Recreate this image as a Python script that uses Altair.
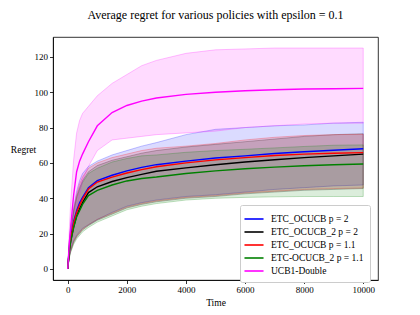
import altair as alt
import pandas as pd

T = [0, 50, 100, 200, 300, 400, 500, 700, 1000, 1500, 2000, 2500, 3000, 4000, 5000, 6000, 7000, 8000, 9000, 10000]

series_names = ["ETC_OCUCB p = 2", "ETC_OCUCB_2 p = 2", "ETC_OCUCB p = 1.1", "ETC-OCUCB_2 p = 1.1", "UCB1-Double"]
series_colors = ["#0000ff", "#000000", "#ff0000", "#008000", "#ff00ff"]

blue_mean = [0, 12, 18, 27, 33, 37.5, 40.5, 46, 50, 53, 55.5, 57.5, 59, 61, 62.8, 64, 65.3, 66.3, 67.2, 68]
blue_low = [0, 7, 11, 16, 19, 21, 23, 25, 28, 32, 35.5, 37.5, 39, 41, 42, 43.5, 45, 46, 47, 47.5]
blue_up = [0, 16, 24, 35, 44, 50, 54, 58, 61, 64.5, 67, 69.5, 71.5, 76, 79, 80, 81, 81.5, 82.5, 83]

black_mean = [0, 10, 16, 24, 30, 34, 37.5, 43.2, 46.5, 49.5, 51.7, 53.5, 55.3, 57.2, 59, 60.5, 61.8, 63, 64, 65]
black_low = [0, 6.5, 10, 15, 18, 20, 22, 24.5, 27.5, 31, 34.5, 36.5, 38, 40, 41, 42.5, 43.5, 44.5, 45, 45.5]
black_up = [0, 14, 22, 33, 41, 46, 50, 55, 58.5, 61.5, 63.5, 65.5, 67, 69, 70.5, 72, 73.5, 75, 76, 76.5]

red_mean = [0, 11, 17, 26, 32, 36, 39.5, 45.2, 49.2, 52, 54.3, 56.2, 57.8, 60, 61.7, 63, 64.2, 65, 65.5, 65.8]
red_low = [0, 7, 10.5, 15.5, 18.5, 20.5, 22.5, 25, 28, 31.5, 35, 37, 38.5, 40.5, 41.5, 43, 44, 45, 45.5, 45.8]
red_up = [0, 15, 23, 34, 42, 48, 52, 57, 60, 63, 65, 67, 68.3, 69.5, 71, 73, 74.5, 75.5, 76, 76.2]

green_mean = [0, 10, 15.5, 23.5, 29.5, 33, 36.5, 41.5, 44.5, 47.5, 49.8, 51.2, 52, 54, 55.5, 56.7, 57.6, 58.4, 59, 59.4]
green_low = [0, 6, 9.5, 14, 17, 19, 21, 23.5, 26.5, 30, 33.5, 35.5, 37, 39, 40, 40.5, 40.8, 41, 41, 41]
green_up = [0, 14, 21, 32, 40, 45, 49, 54, 57, 60.5, 62.5, 64, 64.5, 66, 67, 67.7, 68.5, 69.3, 70, 70.2]

mag_mean = [0, 14, 24, 42, 55, 61, 65, 72, 81, 88.5, 92.5, 95, 96.7, 98.8, 100, 100.8, 101.4, 101.8, 102, 102.2]
mag_low = [0, 7, 12, 22, 33, 42, 50, 58, 67, 73, 74, 75, 76, 77, 78, 80, 81, 82, 82.5, 82.5]
mag_up = [0, 22, 38, 62, 77, 84, 88, 92, 98, 105, 110, 115, 118, 122, 124, 124.5, 125, 125, 125, 125]

means = [blue_mean, black_mean, red_mean, green_mean, mag_mean]
lows = [blue_low, black_low, red_low, green_low, mag_low]
ups = [blue_up, black_up, red_up, green_up, mag_up]

rows = []
for i, name in enumerate(series_names):
    for j, t in enumerate(T):
        rows.append({"series": name, "band": name, "order": i, "t": t,
                     "mean": means[i][j], "low": lows[i][j], "up": ups[i][j]})
df = pd.DataFrame(rows)

FONT = "Liberation Serif"

xscale = alt.Scale(domain=[-500, 10500], nice=False, zero=False)
yscale = alt.Scale(domain=[-6.25, 131.25], nice=False, zero=False)
cscale = alt.Scale(domain=series_names, range=series_colors)

base = alt.Chart(df)

bands = base.mark_area(fillOpacity=0.14, strokeOpacity=0.3, strokeWidth=0.8).encode(
    x=alt.X("t:Q", scale=xscale),
    y=alt.Y("low:Q", scale=yscale),
    y2="up:Q",
    fill=alt.Fill("band:N", scale=cscale, legend=None),
    stroke=alt.Stroke("band:N", scale=cscale, legend=None),
    detail="band:N",
    order="order:Q",
)

lines = base.mark_line(strokeWidth=1.4).encode(
    x=alt.X("t:Q", scale=xscale,
            axis=alt.Axis(title="Time", values=[0, 2000, 4000, 6000, 8000, 10000], format="d",
                          titlePadding=3)),
    y=alt.Y("mean:Q", scale=yscale,
            axis=alt.Axis(title="Regret", values=[0, 20, 40, 60, 80, 100, 120],
                          titleAngle=0, titleAlign="center", titleBaseline="middle",
                          titleX=-30, titleY=112)),
    color=alt.Color("series:N", scale=cscale,
                    legend=alt.Legend(title=None, orient="none", legendX=187, legendY=168,
                                      symbolType="M-1.4,0L1.4,0", symbolSize=185, symbolStrokeWidth=1.6,
                                      labelFont=FONT, labelFontSize=9.5, labelColor="black",
                                      padding=6, rowPadding=0, strokeColor="#cccccc",
                                      fillColor="white", cornerRadius=2, labelOffset=9)),
)

chart = alt.layer(bands, lines).resolve_scale(
    color="independent", fill="independent", stroke="independent"
).resolve_legend(
    color="independent", fill="independent", stroke="independent"
).properties(
    width=325, height=243,
    title=alt.TitleParams("Average regret for various policies with epsilon = 0.1",
                          font=FONT, fontSize=12, fontWeight="normal", color="black", offset=15),
    autosize=alt.AutoSizeParams(type="none"),
    padding={"left": 45, "top": 29, "right": 30, "bottom": 30},
).configure_view(stroke="black", strokeWidth=0.8).configure_axis(
    labelFont=FONT, titleFont=FONT, labelFontSize=9, titleFontSize=9.5,
    labelColor="black", titleColor="black", titleFontWeight="normal",
    domainColor="black", domainWidth=0.8, tickColor="black", tickWidth=0.8, tickSize=3.5,
    grid=False, labelPadding=2,
)

chart.save("out.html", embed_options={"renderer": "svg", "actions": False})
